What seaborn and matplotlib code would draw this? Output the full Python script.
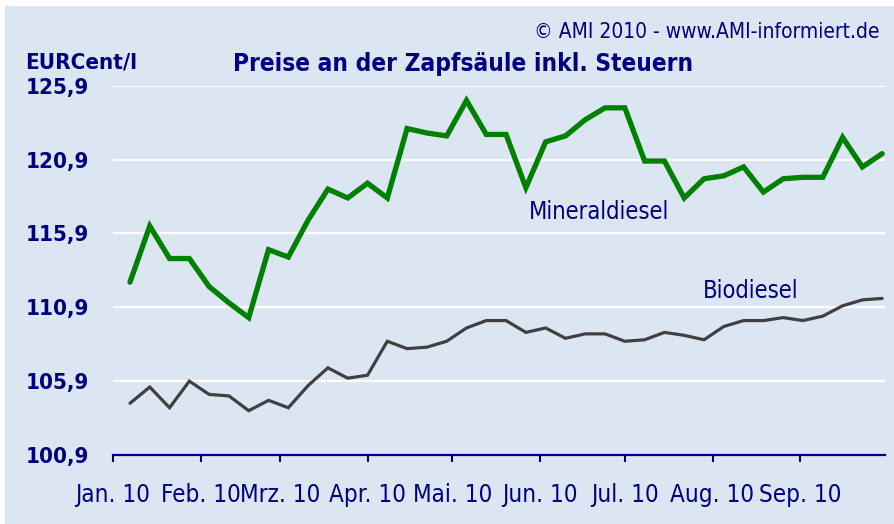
import numpy as np
import pandas as pd
import matplotlib
matplotlib.use("Agg")
import matplotlib.pyplot as plt
from matplotlib import font_manager
from matplotlib.patches import Rectangle
import seaborn as sns

# weekly prices in EURCent/l, Jan - Sep 2010
weeks = pd.date_range("2010-01-07", periods=39, freq="7D")
mineraldiesel = [112.6, 116.4, 114.2, 114.2, 112.3, 111.2, 110.2, 114.8, 114.3, 116.8,
                 118.9, 118.3, 119.3, 118.3, 123.0, 122.7, 122.5, 124.9, 122.6, 122.6,
                 119.0, 122.1, 122.5, 123.6, 124.4, 124.4, 120.8, 120.8, 118.3, 119.6,
                 119.8, 120.4, 118.7, 119.6, 119.7, 119.7, 122.4, 120.4, 121.3]
biodiesel = [104.4, 105.5, 104.1, 105.9, 105.0, 104.9, 103.9, 104.6, 104.1, 105.6,
             106.8, 106.1, 106.3, 108.6, 108.1, 108.2, 108.6, 109.5, 110.0, 110.0,
             109.2, 109.5, 108.8, 109.1, 109.1, 108.6, 108.7, 109.2, 109.0, 108.7,
             109.6, 110.0, 110.0, 110.2, 110.0, 110.3, 111.0, 111.4, 111.5]
y_ticks = [100.9, 105.9, 110.9, 115.9, 120.9, 125.9]
month_starts = pd.date_range("2010-01-01", periods=9, freq="MS")
month_labels = ["Jan. 10", "Feb. 10", "Mrz. 10", "Apr. 10", "Mai. 10",
                "Jun. 10", "Jul. 10", "Aug. 10", "Sep. 10"]

df = pd.DataFrame({"date": weeks, "Mineraldiesel": mineraldiesel, "Biodiesel": biodiesel})

NAVY = "#00007f"
BG = "#dce6f2"

sns.set_style("white")
installed = {f.name for f in font_manager.fontManager.ttflist}
if "Liberation Sans Narrow" in installed:
    plt.rcParams["font.family"] = ["Liberation Sans Narrow", "DejaVu Sans"]
else:
    plt.rcParams["font.family"] = ["DejaVu Sans"]
    plt.rcParams["font.stretch"] = "condensed"

W, H = 894, 524
fig = plt.figure(figsize=(W / 100, H / 100), dpi=100, facecolor="white")
fig.patches.append(Rectangle((5 / W, 0), 1, (H - 6) / H, transform=fig.transFigure,
                             facecolor=BG, edgecolor="none", zorder=-10))

ax = fig.add_axes([113 / W, 69 / H, 772 / W, 369.3 / H])
ax.set_facecolor(BG)
ax.patch.set_alpha(0)

sns.lineplot(data=df, x="date", y="Mineraldiesel", ax=ax, color="#008000", linewidth=3.8,
             solid_joinstyle="miter", zorder=3)
sns.lineplot(data=df, x="date", y="Biodiesel", ax=ax, color="#404040", linewidth=2.3,
             solid_joinstyle="miter", zorder=3)

ax.set_xlim(pd.Timestamp("2010-01-01"), pd.Timestamp("2010-10-01"))
ax.set_ylim(100.9, 125.9)
ax.set_yticks(y_ticks)
ax.set_yticklabels([f"{v:.1f}".replace(".", ",") for v in y_ticks])
ax.set_xticks(month_starts)
ax.set_xticklabels(month_labels)

for s in ["top", "right", "left"]:
    ax.spines[s].set_visible(False)
ax.spines["bottom"].set_color(NAVY)
ax.spines["bottom"].set_linewidth(1.6)

ax.grid(axis="y", color="white", linewidth=1.6, zorder=1)
ax.set_axisbelow(True)

ax.tick_params(axis="y", left=False, length=0, pad=63, labelsize=16, labelcolor=NAVY)
for lbl in ax.get_yticklabels():
    lbl.set_horizontalalignment("left")
    lbl.set_fontweight("bold")
ax.tick_params(axis="x", bottom=True, direction="out", length=5, width=1.5, color=NAVY,
               pad=15, labelsize=17.4, labelcolor=NAVY)
ax.set_xlabel("")
ax.set_ylabel("")

fig.text(25 / W, (H - 68) / H, "EURCent/l", fontsize=16, fontweight="bold",
         color=NAVY, ha="left", va="baseline")
fig.text(463 / W, (H - 70.7) / H, "Preise an der Zapfsäule inkl. Steuern", fontsize=17.5,
         fontweight="bold", color=NAVY, ha="center", va="baseline")
fig.text(879 / W, (H - 38) / H, "© AMI 2010 - www.AMI-informiert.de", fontsize=15,
         color=NAVY, ha="right", va="baseline")
fig.text(529 / W, (H - 219.3) / H, "Mineraldiesel", fontsize=17, color=NAVY,
         ha="left", va="baseline")
fig.text(703 / W, (H - 297.7) / H, "Biodiesel", fontsize=17, color=NAVY,
         ha="left", va="baseline")

fig.savefig("out.png", dpi=100, facecolor=fig.get_facecolor())
